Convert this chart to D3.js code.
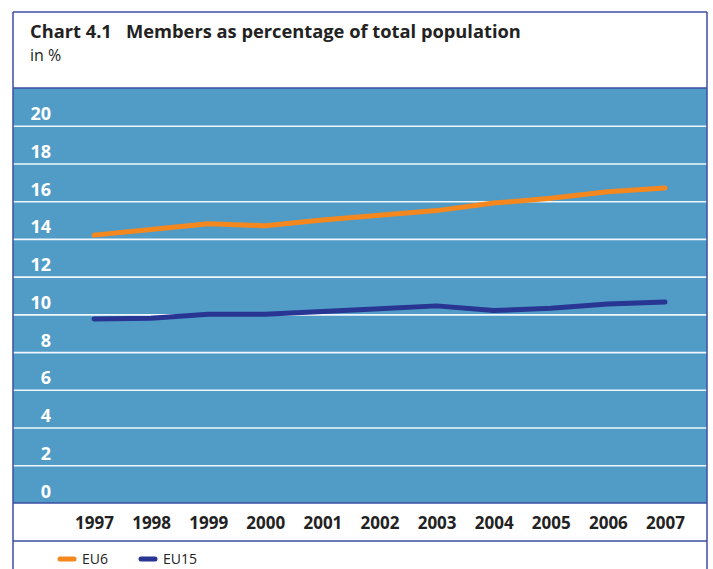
<!DOCTYPE html>
<meta charset="utf-8">

<style>
  body { margin: 0; background: #fff; }
  text { font-family: "Open Sans", "Noto Sans", sans-serif; }
</style>

<svg class="chart"></svg>

<script src="https://cdn.jsdelivr.net/npm/d3@7"></script>
<script>

  // chart data
  var years  = [1997, 1998, 1999, 2000, 2001, 2002, 2003, 2004, 2005, 2006, 2007];
  var eu6    = [14.2, 14.5, 14.8, 14.7, 15.0, 15.25, 15.5, 15.9, 16.15, 16.5, 16.7];
  var eu15   = [9.75, 9.8, 10.0, 10.0, 10.15, 10.3, 10.45, 10.2, 10.33, 10.55, 10.65];
  var yTicks = [0, 2, 4, 6, 8, 10, 12, 14, 16, 18, 20];

  var series = [
    { name: "EU6",  values: eu6,  color: "#f5871f" },
    { name: "EU15", values: eu15, color: "#283593" }
  ];

  var width  = 713;
  var height = 569;

  var frameLeft  = 13;
  var frameRight = 707;
  var plotTop    = 88;
  var plotBottom = 503;
  var axisBottom = 541;
  var frameColor = "#3b4ea3";

  var chart = d3.select(".chart")
      .attr("width", width)
      .attr("height", height);

  var x = d3.scalePoint()
      .domain(years)
      .range([94, 665]);

  var y = d3.scaleLinear()
      .domain([0, 22])
      .range([plotBottom, plotTop]);

  // blue plot area
  chart.append("rect")
      .attr("x", frameLeft)
      .attr("y", plotTop)
      .attr("width", frameRight - frameLeft)
      .attr("height", plotBottom - plotTop)
      .attr("fill", "#519cc6");

  // grid lines + value labels
  var yAxis = d3.axisLeft(y)
      .tickValues(yTicks)
      .tickSize(0);

  var gy = chart.append("g")
      .attr("transform", "translate(" + frameLeft + ",0)")
      .call(yAxis);

  gy.select(".domain").remove();
  gy.selectAll(".tick text")
      .attr("x", 38)
      .attr("dy", -6)
      .attr("text-anchor", "end")
      .attr("fill", "#fff")
      .style("font-size", "18px")
      .style("font-weight", "700")
      .style("font-family", "'Open Sans', sans-serif");

  gy.selectAll(".tick")
      .filter(function(d) { return d > 0; })
      .append("line")
      .attr("x1", 0)
      .attr("x2", frameRight - frameLeft)
      .attr("stroke", "#f2f7fb")
      .attr("stroke-width", 1.6);

  // year labels
  var xAxis = d3.axisBottom(x)
      .tickSize(0)
      .tickPadding(0);

  var gx = chart.append("g")
      .attr("transform", "translate(0," + plotBottom + ")")
      .call(xAxis);

  gx.select(".domain").remove();
  gx.selectAll(".tick text")
      .attr("y", 26)
      .attr("dy", 0)
      .attr("fill", "#222")
      .style("font-size", "17px")
      .style("font-weight", "700")
      .style("font-family", "'Open Sans', sans-serif");

  // lines
  var line = d3.line()
      .x(function(d, i) { return x(years[i]); })
      .y(function(d) { return y(d); });

  chart.append("g")
    .selectAll("path")
    .data(series)
    .enter().append("path")
      .attr("d", function(s) { return line(s.values); })
      .attr("fill", "none")
      .attr("stroke", function(s) { return s.color; })
      .attr("stroke-width", 5)
      .attr("stroke-linecap", "round")
      .attr("stroke-linejoin", "round");

  // frame lines
  var frameLines = [
    [frameLeft, 12, frameRight, 12],
    [frameLeft, 12, frameLeft, height],
    [frameRight, 12, frameRight, height],
    [frameLeft, plotTop, frameRight, plotTop],
    [frameLeft, plotBottom, frameRight, plotBottom],
    [frameLeft, axisBottom, frameRight, axisBottom]
  ];

  chart.append("g")
    .selectAll("line")
    .data(frameLines)
    .enter().append("line")
      .attr("x1", function(d) { return d[0]; })
      .attr("y1", function(d) { return d[1]; })
      .attr("x2", function(d) { return d[2]; })
      .attr("y2", function(d) { return d[3]; })
      .attr("stroke", frameColor)
      .attr("stroke-width", 1.5);

  // title
  chart.append("text")
      .attr("x", 30)
      .attr("y", 38)
      .attr("font-size", 18.3)
      .attr("font-weight", 700)
      .attr("fill", "#222")
      .attr("xml:space", "preserve")
      .text("Chart 4.1   Members as percentage of total population");

  chart.append("text")
      .attr("x", 30)
      .attr("y", 61)
      .attr("font-size", 16)
      .attr("fill", "#222")
      .text("in %");

  // legend
  var legend = chart.append("g")
    .selectAll("g")
    .data(series)
    .enter().append("g")
      .attr("transform", function(s, i) { return "translate(" + (60 + i * 81) + ",559)"; });

  legend.append("line")
      .attr("x1", 0)
      .attr("x2", 14)
      .attr("stroke", function(s) { return s.color; })
      .attr("stroke-width", 5)
      .attr("stroke-linecap", "round");

  legend.append("text")
      .attr("x", 22)
      .attr("y", 5)
      .attr("font-size", 14)
      .attr("fill", "#222")
      .text(function(s) { return s.name; });

</script>
